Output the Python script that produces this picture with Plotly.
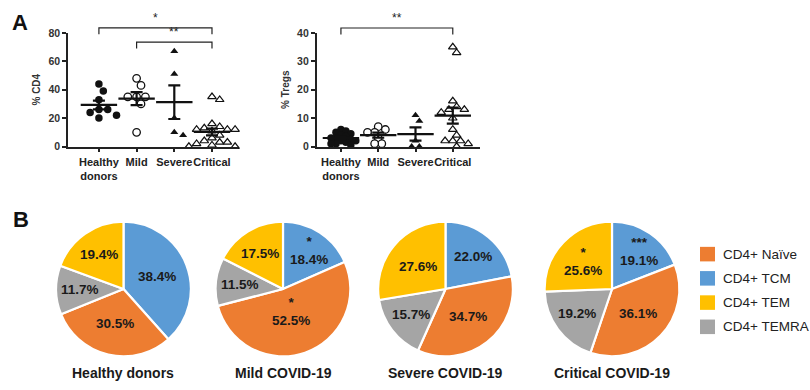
import math
import numpy as np
import plotly.graph_objects as go

W, H = 810, 390
FONT = "Liberation Sans, Arial, sans-serif"

# ---------------- data ----------------
groups = ["Healthy<br>donors", "Mild", "Severe", "Critical"]

cd4_healthy = [44, 39, 33, 26, 26, 24, 22, 20]
cd4_mild = [48, 43, 35, 35, 35, 30, 10]
cd4_severe = [67, 51, 20, 10, 8]
cd4_critical = [35, 33, 16, 14, 13, 12, 12, 12, 11, 8, 6, 4, 3, 3, 2, 1, 0, 0]

treg_healthy = [6, 5.5, 5, 4.5, 4, 3.5, 3, 3, 2.5, 2, 2, 1.5, 1, 1, 0.5]
treg_mild = [7, 6, 5, 5, 3, 1, 1]
treg_severe = [11, 9, 2, 0, 0]
treg_critical = [35, 33, 16, 14, 13, 13, 12, 10, 6, 4, 2, 2, 2, 1, 0]

cd4_ticks = [0, 20, 40, 60, 80]
treg_ticks = [0, 10, 20, 30, 40]

cd4_sig = [(0, 3, "*"), (1, 3, "**")]
treg_sig = [(0, 3, "**")]

pie_titles = ["Healthy donors", "Mild COVID-19", "Severe COVID-19", "Critical COVID-19"]
subsets = ["CD4+ TCM", "CD4+ Naïve", "CD4+ TEMRA", "CD4+ TEM"]
pie_healthy = [38.4, 30.5, 11.7, 19.4]
pie_mild = [18.4, 52.5, 11.5, 17.5]
pie_severe = [22.0, 34.7, 15.7, 27.6]
pie_critical = [19.1, 36.1, 19.2, 25.6]
sig_healthy = ["", "", "", ""]
sig_mild = ["*", "*", "", ""]
sig_severe = ["", "", "", ""]
sig_critical = ["***", "", "", "*"]
legend_order = ["CD4+ Naïve", "CD4+ TCM", "CD4+ TEM", "CD4+ TEMRA"]

# ---------------- styles / layout ----------------
subset_colors = {"CD4+ Naïve": "#ED7D31", "CD4+ TCM": "#5B9BD5",
                 "CD4+ TEM": "#FFC000", "CD4+ TEMRA": "#A5A5A5"}
INK = "#111111"
group_styles = [
    dict(symbol="circle", color=INK, line=dict(width=0, color=INK), size=7.5),
    dict(symbol="circle", color="white", line=dict(width=1.3, color=INK), size=7.5),
    dict(symbol="triangle-up", color=INK, line=dict(width=0, color=INK), size=7),
    dict(symbol="triangle-up", color="white", line=dict(width=1.2, color=INK), size=7.5),
]

y_dom = [1 - 145 / H, 1 - 27.7 / H]
panels = [
    dict(xa="x", ya="y", xdom=[68 / W, 238 / W], xr=[-0.82, 3.69], yr=[0, 80],
         data=[cd4_healthy, cd4_mild, cd4_severe, cd4_critical], ticks=cd4_ticks,
         title="% CD4", sig=cd4_sig, levels=[83.5, 73.5], drop=4.5, diam=[8, 8, 8, 7]),
    dict(xa="x2", ya="y2", xdom=[316.7 / W, 480 / W], xr=[-0.65, 3.73], yr=[0, 40],
         data=[treg_healthy, treg_mild, treg_severe, treg_critical], ticks=treg_ticks,
         title="% Tregs", sig=treg_sig, levels=[41.7], drop=2.3, diam=[4.5, 6.5, 7, 7]),
]


def swarm(vals, ppy, ppx, diam):
    placed, offs = [], []
    step = diam * 0.55
    cands = [0.0]
    for i in range(1, 40):
        cands += [i * step, -i * step]
    for v in vals:
        yp = v * ppy
        for c in cands:
            if all((c - a) ** 2 + (yp - b) ** 2 >= diam ** 2 for a, b in placed):
                break
        placed.append((c, yp))
        offs.append(c / ppx)
    return offs


fig = go.Figure()
annotations = []
shapes = []

for p in panels:
    ppx = (p["xdom"][1] - p["xdom"][0]) * W / (p["xr"][1] - p["xr"][0])
    ppy = (y_dom[1] - y_dom[0]) * H / (p["yr"][1] - p["yr"][0])
    for gi, vals in enumerate(p["data"]):
        offs = swarm(vals, ppy, ppx, p["diam"][gi])
        st = group_styles[gi]
        fig.add_trace(go.Scatter(
            x=[gi + o for o in offs], y=vals, mode="markers", xaxis=p["xa"], yaxis=p["ya"],
            marker=dict(symbol=st["symbol"], size=st["size"], color=st["color"], line=st["line"]),
            cliponaxis=False, showlegend=False, hoverinfo="skip"))
    for gi, vals in enumerate(p["data"]):
        arr = np.array(vals, dtype=float)
        m = arr.mean()
        sem = arr.std(ddof=1) / math.sqrt(len(arr))
        fig.add_trace(go.Scatter(
            x=[gi], y=[m], mode="markers", xaxis=p["xa"], yaxis=p["ya"],
            marker=dict(symbol="line-ew", size=26, line=dict(width=2.2, color=INK)),
            error_y=dict(type="data", array=[sem], width=6, thickness=2.2, color=INK),
            cliponaxis=False, showlegend=False, hoverinfo="skip"))

    def to_paper(v):
        return y_dom[0] + (v - p["yr"][0]) / (p["yr"][1] - p["yr"][0]) * (y_dom[1] - y_dom[0])

    for (a, b, txt), lev in zip(p["sig"], p["levels"]):
        top = to_paper(lev)
        bot = to_paper(lev - p["drop"])
        shapes.append(dict(type="path", xref=p["xa"], yref="paper",
                           path=f"M{a},{bot} L{a},{top} L{b},{top} L{b},{bot}",
                           line=dict(color="#222", width=1.2)))
        annotations.append(dict(x=(a + b) / 2, y=top, xref=p["xa"], yref="paper",
                                text=txt, showarrow=False, yanchor="bottom", yshift=1,
                                font=dict(size=12, color="#222", family=FONT)))

axis_common = dict(showline=True, linecolor="#222", linewidth=1.6, ticks="outside",
                   ticklen=4, tickwidth=1.6, tickcolor="#222", showgrid=False, zeroline=False)
lay = dict(
    width=W, height=H, margin=dict(l=0, r=0, t=0, b=0),
    paper_bgcolor="white", plot_bgcolor="white",
    font=dict(family=FONT, color="#222"), showlegend=False,
)
for i, p in enumerate(panels):
    sfx = "" if i == 0 else str(i + 1)
    lay["xaxis" + sfx] = dict(axis_common, domain=p["xdom"], range=p["xr"], anchor=p["ya"],
                              tickvals=[0, 1, 2, 3], ticktext=groups, tickangle=0,
                              tickfont=dict(size=11, weight="bold", color="#222"))
    lay["yaxis" + sfx] = dict(axis_common, domain=y_dom, range=p["yr"], anchor=p["xa"],
                              tickvals=p["ticks"],
                              tickfont=dict(size=10.5, weight="bold", color="#333"),
                              title=dict(text=p["title"], standoff=6,
                                         font=dict(size=10, weight="bold", color="#333")))

# ---------------- pies ----------------
pie_vals = [pie_healthy, pie_mild, pie_severe, pie_critical]
pie_sigs = [sig_healthy, sig_mild, sig_severe, sig_critical]
centers = [123.5, 283, 445.5, 612]
CY, R = 292, 69.5
for k, (vals, sigs, cx) in enumerate(zip(pie_vals, pie_sigs, centers)):
    fig.add_trace(go.Pie(
        labels=subsets, values=vals, sort=False, direction="clockwise", rotation=0,
        marker=dict(colors=[subset_colors[s] for s in subsets], line=dict(color="white", width=2.2)),
        textinfo="none", hoverinfo="label+value", showlegend=False,
        domain=dict(x=[(cx - R) / W, (cx + R) / W], y=[1 - (CY + R) / H, 1 - (CY - R) / H])))
    cum = 0.0
    for v, s in zip(vals, sigs):
        mid = (cum + v / 2) / 100 * 2 * math.pi
        cum += v
        frac = 0.3 if v >= 50 else (0.52 if v >= 25 else 0.62)
        if s:
            frac += 0.06
        px = cx + frac * R * math.sin(mid)
        py = CY - frac * R * math.cos(mid)
        txt = f"{v:.1f}%" if not s else f"{s}<br>{v:.1f}%"
        annotations.append(dict(x=px / W, y=1 - py / H, xref="paper", yref="paper", text=txt,
                                showarrow=False, xanchor="center", yanchor="middle",
                                font=dict(size=13.5, weight="bold", color="#1a1a1a", family=FONT)))
    annotations.append(dict(x=cx / W, y=1 - 379 / H, xref="paper", yref="paper",
                            text=pie_titles[k], showarrow=False, xanchor="center", yanchor="middle",
                            font=dict(size=14, weight="bold", color="#1a1a1a", family=FONT)))

# legend (square swatches + labels)
LX, LY0, LDY, SQ = 700, 256, 25, 15
for j, name in enumerate(legend_order):
    yc = LY0 + j * LDY
    shapes.append(dict(type="rect", xref="paper", yref="paper",
                       x0=LX / W, x1=(LX + SQ) / W,
                       y0=1 - (yc + SQ / 2) / H, y1=1 - (yc - SQ / 2) / H,
                       fillcolor=subset_colors[name], line=dict(width=0)))
    annotations.append(dict(x=(LX + SQ + 6) / W, y=1 - yc / H, xref="paper", yref="paper",
                            text=name, showarrow=False, xanchor="left", yanchor="middle",
                            font=dict(size=13.5, color="#222", family=FONT)))

# panel letters
annotations.append(dict(x=20 / W, y=1 - 17 / H, xref="paper", yref="paper", text="A",
                        showarrow=False, xanchor="center", yanchor="middle",
                        font=dict(size=22, weight="bold", color="#111", family=FONT)))
annotations.append(dict(x=20.5 / W, y=1 - 220 / H, xref="paper", yref="paper", text="B",
                        showarrow=False, xanchor="center", yanchor="middle",
                        font=dict(size=22, weight="bold", color="#111", family=FONT)))

lay["annotations"] = annotations
lay["shapes"] = shapes
fig.update_layout(**lay)
fig.write_html("out.html", config={"displayModeBar": False},
               post_script="document.body.style.margin='0px';document.body.style.overflow='hidden';")
